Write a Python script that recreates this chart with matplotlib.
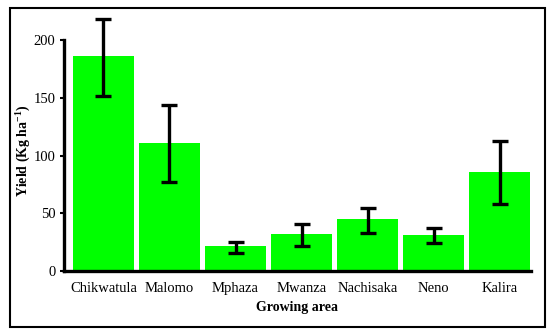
import matplotlib.pyplot as plt
from matplotlib.patches import Rectangle

areas = ['Chikwatula', 'Malomo', 'Mphaza', 'Mwanza', 'Nachisaka', 'Neno', 'Kalira']
yield_mean = [186, 111, 22, 32, 45, 31, 86]
err_low = [34, 34, 6, 10, 12, 7, 28]
err_high = [32, 33, 3, 9, 10, 6, 27]

plt.rcParams['font.family'] = 'Liberation Serif'
plt.rcParams['mathtext.fontset'] = 'custom'
plt.rcParams['mathtext.rm'] = 'Liberation Serif'
plt.rcParams['mathtext.bf'] = 'Liberation Serif:bold'

fig = plt.figure(figsize=(5.5, 3.33), dpi=100)
ax = fig.add_axes([0.116, 0.186, 0.849, 0.77])

x = range(len(areas))
ax.bar(x, yield_mean, width=0.92, color='#00ff00', edgecolor='none',
       yerr=[err_low, err_high], capsize=6,
       error_kw=dict(elinewidth=2.4, capthick=2.4, ecolor='black'))

ax.set_xlim(-0.6, 6.47)
ax.set_ylim(0, 222)
ax.set_yticks([0, 50, 100, 150, 200])
ax.set_xticks(list(x))
ax.set_xticklabels(areas, fontsize=10.5)
ax.tick_params(axis='y', labelsize=10.5, length=3, width=1.5, pad=3)
ax.tick_params(axis='x', length=0, pad=8)

for side in ['top', 'right']:
    ax.spines[side].set_visible(False)
ax.spines['left'].set_linewidth(2.4)
ax.spines['bottom'].set_linewidth(2.4)
ax.spines['left'].set_bounds(0, 200)

ax.set_ylabel('Yield (Kg ha$^{\\mathbf{-1}}$)', fontsize=10, fontweight='bold')
ax.yaxis.set_label_coords(-0.068, 0.47)
ax.set_xlabel('Growing area', fontsize=10, fontweight='bold', labelpad=4)

fig.patches.append(Rectangle((0.018, 0.018), 0.972, 0.958, transform=fig.transFigure,
                             fill=False, edgecolor='black', linewidth=1.5))

fig.savefig('out.png', dpi=100)
